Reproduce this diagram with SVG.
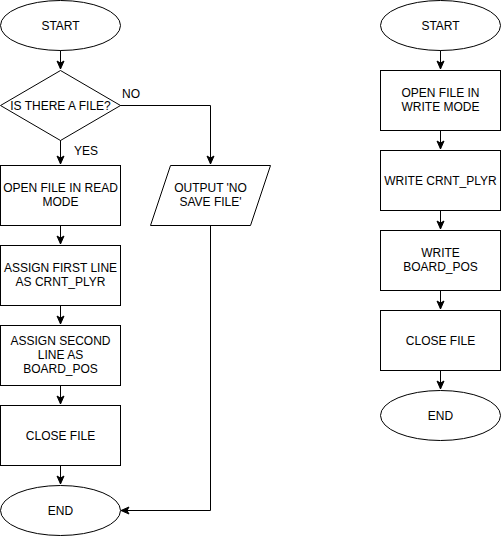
<svg xmlns="http://www.w3.org/2000/svg" width="502" height="537" viewBox="0 0 502 537">
<style>
.s{fill:#fff;stroke:#000;stroke-width:1}
.t{font-family:"Liberation Sans",Arial,sans-serif;font-size:12px;fill:#000;text-anchor:middle}
.l{font-family:"Liberation Sans",Arial,sans-serif;font-size:12px;fill:#000}
.c{fill:none;stroke:#000;stroke-width:1}
</style>
<defs>
<marker id="a" markerUnits="userSpaceOnUse" markerWidth="10" markerHeight="10" viewBox="0 0 10 10" refX="9" refY="5" orient="auto">
<path d="M1,1.5 L9,5 L1,8.5 L3,5 Z" fill="#000" stroke="#000" stroke-width="1"/>
</marker>
</defs>
<rect width="502" height="537" fill="#fff"/>
<g id="connectors">
<path class="c" d="M60.5,50 V69" marker-end="url(#a)"/>
<path class="c" d="M60.5,140 V164" marker-end="url(#a)"/>
<path class="c" d="M120,105.5 H210.5 V164" marker-end="url(#a)"/>
<path class="c" d="M60.5,225 V244" marker-end="url(#a)"/>
<path class="c" d="M60.5,305 V324" marker-end="url(#a)"/>
<path class="c" d="M60.5,385 V404" marker-end="url(#a)"/>
<path class="c" d="M60.5,465 V484" marker-end="url(#a)"/>
<path class="c" d="M210.5,225 V510.5 H121" marker-end="url(#a)"/>
<path class="c" d="M440.5,50 V69" marker-end="url(#a)"/>
<path class="c" d="M440.5,130 V149" marker-end="url(#a)"/>
<path class="c" d="M440.5,210 V229" marker-end="url(#a)"/>
<path class="c" d="M440.5,290 V309" marker-end="url(#a)"/>
<path class="c" d="M440.5,370 V389" marker-end="url(#a)"/>
<text class="l" x="122" y="98">NO</text>
<text class="l" x="74" y="155">YES</text>
</g>
<g id="start1"><ellipse class="s" cx="60.5" cy="25.5" rx="60" ry="25"/><text class="t" x="60.5" y="30">START</text></g>
<g id="decision"><path class="s" d="M60.5,70.5 L120.5,105.5 L60.5,140.5 L0.5,105.5 Z"/><text class="t" x="60.5" y="110">IS THERE A FILE?</text></g>
<g id="openread"><rect class="s" x="0.5" y="165.5" width="120" height="60"/><text class="t" x="60.5" y="192">OPEN FILE IN READ</text><text class="t" x="60.5" y="206">MODE</text></g>
<g id="output"><path class="s" d="M170.5,165.5 H270.5 L250.5,225.5 H150.5 Z"/><text class="t" x="210.5" y="192">OUTPUT 'NO</text><text class="t" x="210.5" y="206">SAVE FILE'</text></g>
<g id="assign1"><rect class="s" x="0.5" y="245.5" width="120" height="60"/><text class="t" x="60.5" y="272">ASSIGN FIRST LINE</text><text class="t" x="60.5" y="286">AS CRNT_PLYR</text></g>
<g id="assign2"><rect class="s" x="0.5" y="325.5" width="120" height="60"/><text class="t" x="60.5" y="345">ASSIGN SECOND</text><text class="t" x="60.5" y="359">LINE AS</text><text class="t" x="60.5" y="373">BOARD_POS</text></g>
<g id="close1"><rect class="s" x="0.5" y="405.5" width="120" height="60"/><text class="t" x="60.5" y="440">CLOSE FILE</text></g>
<g id="end1"><ellipse class="s" cx="60.5" cy="510.5" rx="60" ry="25"/><text class="t" x="60.5" y="515">END</text></g>
<g id="start2"><ellipse class="s" cx="440.5" cy="25.5" rx="60" ry="25"/><text class="t" x="440.5" y="30">START</text></g>
<g id="openwrite"><rect class="s" x="380.5" y="70.5" width="120" height="60"/><text class="t" x="440.5" y="97">OPEN FILE IN</text><text class="t" x="440.5" y="111">WRITE MODE</text></g>
<g id="writeplyr"><rect class="s" x="380.5" y="150.5" width="120" height="60"/><text class="t" x="440.5" y="185">WRITE CRNT_PLYR</text></g>
<g id="writeboard"><rect class="s" x="380.5" y="230.5" width="120" height="60"/><text class="t" x="440.5" y="257">WRITE</text><text class="t" x="440.5" y="271">BOARD_POS</text></g>
<g id="close2"><rect class="s" x="380.5" y="310.5" width="120" height="60"/><text class="t" x="440.5" y="345">CLOSE FILE</text></g>
<g id="end2"><ellipse class="s" cx="440.5" cy="415.5" rx="60" ry="25"/><text class="t" x="440.5" y="420">END</text></g>
</svg>
